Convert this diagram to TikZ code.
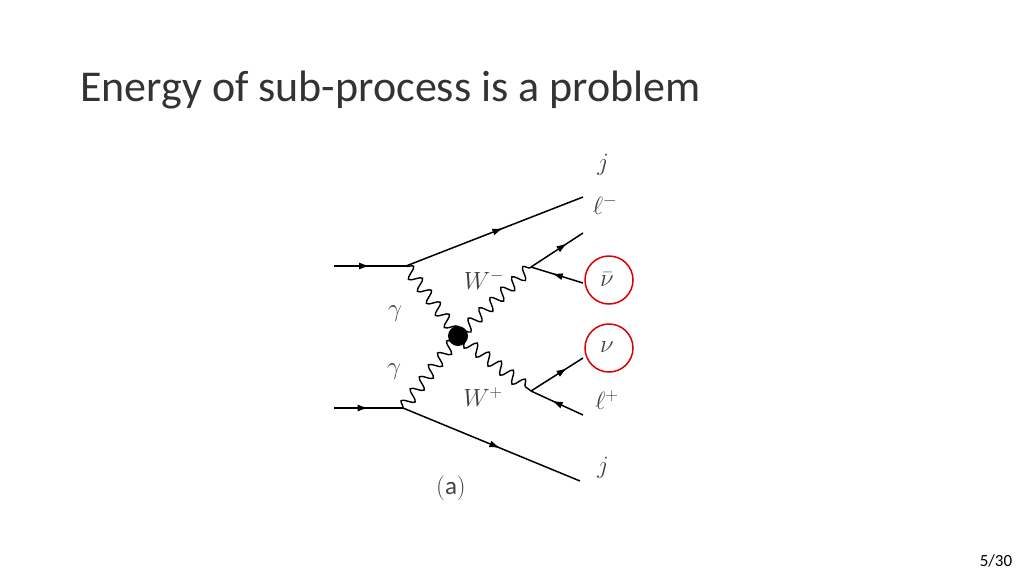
\documentclass[tikz,border=0pt]{standalone}
\usepackage{fontspec}
\setmainfont{Carlito}
\usetikzlibrary{decorations.pathmorphing,decorations.markings,arrows.meta}
\begin{document}
\begin{tikzpicture}[
        x=1pt, y=-1pt,
        fermion/.style={line width=1.5pt, postaction={decorate},
            decoration={markings, mark=at position #1 with {\arrow{Latex[length=11pt,width=7pt]}}}},
        fermion/.default=0.55,
        photon/.style={line width=1.4pt, decorate,
            decoration={snake, amplitude=6pt, segment length=15pt}},
        lbl/.style={font=\fontsize{25}{28}\selectfont, text=black!75},
        ring/.style={draw=red!85!black, line width=1.5pt, circle, minimum size=48pt}
    ]
        % Rahmen
        \useasboundingbox (0,0) rectangle (1024,576);
        \node[anchor=base west, inner sep=0pt, font=\fontsize{44}{48}\selectfont, text=black!80] (title) at (80,101) {Energy of sub-process is a problem};
        \node[font=\fontsize{17}{20}\selectfont] (page) at (996,561) {5/30};

        % Vertices
        \coordinate (inA) at (334,266);
        \coordinate (inB) at (334,408);
        \coordinate (vA) at (406,266);
        \coordinate (vB) at (403,408);
        \coordinate (outA) at (583,197);
        \coordinate (outB) at (580,481);
        \coordinate (vC) at (531,267);
        \coordinate (vD) at (531,391);
        \coordinate (c1) at (583,233);
        \coordinate (c2) at (583,283);
        \coordinate (d1) at (583,358);
        \coordinate (d2) at (583,415);
        \coordinate (blob) at (458,336);

        % Fermionen
        \draw[fermion=0.5] (inA) -- (vA);
        \draw[fermion=0.5] (inB) -- (vB);
        \draw[fermion] (vA) -- (outA);
        \draw[fermion] (vB) -- (outB);
        \draw[fermion=0.7] (vC) -- (c1);
        \draw[fermion=0.6] (c2) -- (vC);
        \draw[fermion=0.7] (vD) -- (d1);
        \draw[fermion=0.6] (d2) -- (vD);

        % Photonen und W
        \draw[photon] (vA) -- (blob);
        \draw[photon] (vB) -- (blob);
        \draw[photon] (blob) -- (vC);
        \draw[photon] (blob) -- (vD);
        \fill[black] (blob) circle (10pt);

        % Beschriftungen
        \node[lbl] (jA) at (603,165) {$j$};
        \node[lbl] (lm) at (605,205) {$\ell^-$};
        \node[lbl] (nub) at (607,280) {$\bar\nu$};
        \node[lbl] (nu) at (607,347) {$\nu$};
        \node[lbl] (lp) at (607,400) {$\ell^+$};
        \node[lbl] (jB) at (603,468) {$j$};
        \node[lbl] (gA) at (395,314) {$\gamma$};
        \node[lbl] (gB) at (394,372) {$\gamma$};
        \node[lbl] (wm) at (484,280) {$W^-$};
        \node[lbl] (wp) at (483,397) {$W^+$};
        \node[lbl] (cap) at (451,488) {$\mathrm{(a)}$};
        \node[ring] (ringA) at (609,280) {};
        \node[ring] (ringB) at (609,348) {};
\end{tikzpicture}
\end{document}
